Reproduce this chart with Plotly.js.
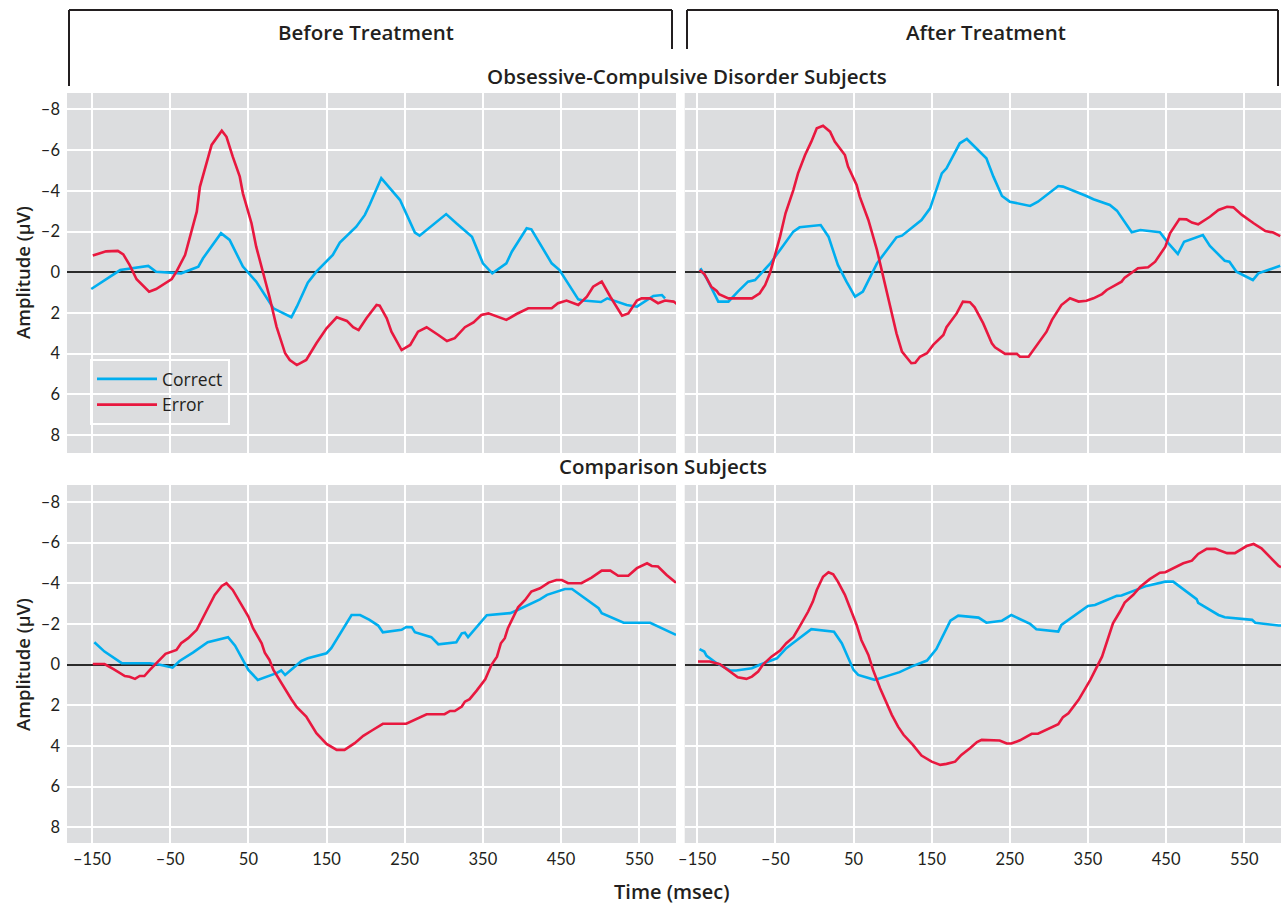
<!DOCTYPE html>
<html>
<head>
<meta charset="utf-8">
<script src="https://cdn.plot.ly/plotly-3.0.1.min.js"></script>
<style>html,body{margin:0;padding:0;background:#fff;}#chart{width:1281px;height:907px;}</style>
</head>
<body>
<div id="chart"></div>
<script>
// ---------- data (time in msec, amplitude in µV) ----------
const ocdBeforeCorrectT = [-151,-136,-114,-78,-68,-36,-14,-8,15,26,43,60,82,105,112,126,137,158,167,188,199,205,220,244,263,269,303,316,336,350,362,380,387,406,412,438,448,472,478,501,509,534,547,568,579,583];
const ocdBeforeCorrectV = [0.82,0.46,-0.11,-0.31,-0.03,0.05,-0.28,-0.69,-1.92,-1.59,-0.28,0.46,1.77,2.21,1.69,0.51,-0.03,-0.85,-1.46,-2.24,-2.82,-3.31,-4.62,-3.55,-1.95,-1.8,-2.86,-2.41,-1.75,-0.44,0.05,-0.44,-1.01,-2.16,-2.11,-0.44,-0.11,1.33,1.39,1.46,1.28,1.61,1.69,1.16,1.12,1.28];
const ocdBeforeErrorT = [-149,-136,-132,-117,-110,-102,-93,-77,-68,-48,-42,-31,-23,-16,-12,-2,3,16,22,30,39,43,54,60,69,77,86,97,103,112,124,137,150,163,176,184,191,201,214,218,227,233,246,257,267,278,293,304,314,327,338,348,357,368,380,393,408,438,446,457,464,472,483,491,502,513,528,536,547,553,564,574,583,594,598];
const ocdBeforeErrorV = [-0.82,-0.98,-1.03,-1.05,-0.88,-0.36,0.34,0.95,0.82,0.33,-0.03,-0.85,-1.92,-2.98,-4.2,-5.52,-6.26,-6.96,-6.66,-5.68,-4.7,-3.88,-2.41,-1.26,-0.03,1.2,2.67,3.98,4.31,4.56,4.31,3.49,2.75,2.21,2.39,2.7,2.84,2.26,1.61,1.64,2.26,2.92,3.82,3.57,2.92,2.7,3.08,3.38,3.24,2.7,2.46,2.1,2.02,2.18,2.34,2.05,1.77,1.77,1.52,1.39,1.49,1.61,1.2,0.71,0.46,1.2,2.13,2.02,1.39,1.28,1.28,1.52,1.39,1.44,1.56];

const ocdAfterCorrectT = [-146,-138,-123,-110,-98,-85,-76,-57,-44,-27,-19,8,18,30,41,52,62,80,105,112,137,148,163,169,186,195,220,229,240,250,276,286,312,318,348,357,378,387,406,417,442,453,465,473,497,506,525,531,540,561,568,596];
const ocdAfterCorrectV = [-0.2,0.29,1.44,1.44,0.95,0.46,0.38,-0.41,-1.1,-2.0,-2.21,-2.32,-1.75,-0.36,0.46,1.2,0.95,-0.44,-1.72,-1.8,-2.57,-3.14,-4.86,-5.11,-6.34,-6.55,-5.6,-4.7,-3.75,-3.47,-3.26,-3.47,-4.24,-4.21,-3.75,-3.59,-3.31,-3.03,-1.97,-2.08,-1.97,-1.42,-0.9,-1.5,-1.83,-1.29,-0.57,-0.52,-0.03,0.38,0.05,-0.32];
const ocdAfterErrorT = [-147,-141,-132,-125,-122,-110,-80,-70,-63,-57,-51,-44,-37,-27,-21,-12,-4,3,11,20,26,39,43,54,58,69,80,88,97,105,112,124,129,135,144,152,165,169,182,190,199,205,216,227,231,244,259,263,274,282,297,304,316,327,338,348,357,368,374,393,397,414,427,436,449,455,467,476,483,491,506,517,528,536,547,562,577,587,596];
const ocdAfterErrorV = [-0.11,0.08,0.71,0.92,1.08,1.28,1.28,1.03,0.62,0.05,-0.77,-1.75,-2.9,-4.04,-4.86,-5.76,-6.42,-7.08,-7.2,-6.91,-6.42,-5.76,-5.19,-4.29,-3.72,-2.57,-1.1,0.22,1.69,3.0,3.9,4.47,4.45,4.15,3.98,3.57,3.08,2.7,2.02,1.44,1.47,1.72,2.51,3.49,3.69,4.01,4.01,4.15,4.15,3.73,2.92,2.34,1.61,1.28,1.44,1.4,1.28,1.07,0.87,0.46,0.26,-0.2,-0.25,-0.52,-1.26,-1.92,-2.62,-2.6,-2.44,-2.36,-2.73,-3.06,-3.22,-3.19,-2.82,-2.41,-2.03,-1.95,-1.78];

const cmpBeforeCorrectT = [-147,-134,-112,-76,-63,-47,-38,-21,-2,24,33,50,62,86,92,97,107,118,126,150,156,182,193,205,216,222,246,252,259,263,284,293,316,323,327,331,355,385,393,423,432,455,464,498,502,530,564,589,597];
const cmpBeforeCorrectV = [-1.1,-0.64,-0.07,-0.07,0.01,0.15,-0.18,-0.59,-1.1,-1.35,-0.93,0.26,0.75,0.42,0.29,0.51,0.18,-0.18,-0.31,-0.56,-0.81,-2.44,-2.44,-2.2,-1.92,-1.59,-1.71,-1.85,-1.84,-1.59,-1.35,-1.0,-1.1,-1.54,-1.57,-1.35,-2.43,-2.53,-2.66,-3.21,-3.43,-3.72,-3.72,-2.77,-2.53,-2.06,-2.06,-1.59,-1.46];
const cmpBeforeErrorT = [-149,-134,-123,-108,-102,-95,-89,-83,-76,-70,-63,-56,-42,-36,-27,-16,-4,7,16,22,30,41,50,56,67,71,77,82,97,105,112,124,137,150,163,173,186,197,208,222,252,261,278,301,308,314,323,327,333,342,353,361,368,373,378,382,395,404,412,423,434,444,451,459,476,489,502,513,523,536,547,560,566,574,585,597];
const cmpBeforeErrorV = [-0.03,-0.03,0.21,0.56,0.6,0.7,0.56,0.56,0.26,0.01,-0.23,-0.53,-0.72,-1.05,-1.3,-1.71,-2.61,-3.43,-3.87,-4.0,-3.67,-2.93,-2.36,-1.79,-1.05,-0.59,-0.23,0.26,1.24,1.7,2.09,2.56,3.37,3.9,4.19,4.19,3.86,3.5,3.24,2.91,2.91,2.75,2.44,2.44,2.28,2.28,2.06,1.82,1.7,1.28,0.72,0.01,-0.39,-1.05,-1.3,-1.79,-2.82,-3.18,-3.59,-3.75,-4.03,-4.16,-4.16,-4.0,-4.0,-4.28,-4.62,-4.62,-4.37,-4.37,-4.74,-4.98,-4.85,-4.82,-4.41,-4.03];

const cmpAfterCorrectT = [-147,-141,-138,-125,-108,-100,-80,-70,-48,-36,-21,-4,25,35,50,56,77,86,109,124,144,156,174,184,210,220,240,252,276,284,312,316,350,359,387,393,417,425,449,459,489,491,517,525,560,564,594,597];
const cmpAfterCorrectV = [-0.76,-0.64,-0.43,-0.07,0.29,0.29,0.18,0.01,-0.31,-0.81,-1.25,-1.74,-1.62,-1.05,0.26,0.51,0.75,0.64,0.37,0.1,-0.2,-0.76,-2.16,-2.41,-2.31,-2.06,-2.16,-2.44,-2.0,-1.74,-1.62,-1.95,-2.88,-2.93,-3.38,-3.4,-3.75,-3.87,-4.08,-4.08,-3.22,-3.04,-2.44,-2.33,-2.2,-2.06,-1.92,-1.92];
const cmpAfterErrorT = [-149,-134,-121,-108,-98,-87,-80,-72,-66,-55,-44,-36,-27,-19,-8,-2,3,11,18,24,30,39,48,54,60,69,75,84,99,107,114,126,137,150,161,169,180,188,199,208,214,237,246,252,263,278,286,295,312,318,325,338,353,368,374,382,391,397,408,417,429,442,449,464,472,483,491,502,513,528,538,553,562,572,583,594,597];
const cmpAfterErrorV = [-0.15,-0.15,-0.02,0.34,0.62,0.7,0.59,0.34,0.01,-0.39,-0.69,-1.05,-1.35,-1.87,-2.61,-3.1,-3.67,-4.32,-4.54,-4.44,-4.08,-3.43,-2.53,-1.95,-1.21,-0.48,0.26,1.16,2.47,3.05,3.45,3.95,4.47,4.77,4.93,4.88,4.77,4.44,4.11,3.81,3.7,3.73,3.88,3.88,3.72,3.4,3.4,3.24,2.93,2.58,2.39,1.73,0.75,-0.39,-1.13,-2.03,-2.61,-3.05,-3.43,-3.83,-4.2,-4.52,-4.54,-4.85,-4.98,-5.11,-5.44,-5.69,-5.69,-5.48,-5.48,-5.83,-5.93,-5.72,-5.31,-4.85,-4.79];

const xTickVals = [-150,-50,50,150,250,350,450,550];
const xTickText = ['–150','–50','50','150','250','350','450','550'];
const yTickVals = [-8,-6,-4,-2,0,2,4,6,8];
const yTickText = ['–8','–6','–4','–2','0','2','4','6','8'];
const seriesNames = ['Correct','Error'];
const columnTitles = ['Before Treatment','After Treatment'];
const rowTitles = ['Obsessive-Compulsive Disorder Subjects','Comparison Subjects'];
const yTitle = 'Amplitude (μV)';
const xTitle = 'Time (msec)';

// ---------- styling ----------
const W = 1281, H = 907;
const BLUE = '#00AEEF', RED = '#E8183F', INK = '#231F20', BG = '#DCDDDF';
const TICKFONT = 'Lato, "Open Sans", "Noto Sans", sans-serif';
const TEXTFONT = '"Open Sans", Lato, "Noto Sans", sans-serif';
const px = x => x / W;
const py = y => 1 - y / H;

function tr(x, y, name, color, ax, show) {
  return {x: x, y: y, type: 'scatter', mode: 'lines', name: name,
    line: {color: color, width: 2.6}, xaxis: 'x' + ax, yaxis: 'y' + ax,
    showlegend: show, legendgroup: name, hoverinfo: 'x+y+name'};
}
const traces = [
  tr(ocdBeforeCorrectT, ocdBeforeCorrectV, seriesNames[0], BLUE, '', true),
  tr(ocdBeforeErrorT, ocdBeforeErrorV, seriesNames[1], RED, '', true),
  tr(ocdAfterCorrectT, ocdAfterCorrectV, seriesNames[0], BLUE, '2', false),
  tr(ocdAfterErrorT, ocdAfterErrorV, seriesNames[1], RED, '2', false),
  tr(cmpBeforeCorrectT, cmpBeforeCorrectV, seriesNames[0], BLUE, '3', false),
  tr(cmpBeforeErrorT, cmpBeforeErrorV, seriesNames[1], RED, '3', false),
  tr(cmpAfterCorrectT, cmpAfterCorrectV, seriesNames[0], BLUE, '4', false),
  tr(cmpAfterErrorT, cmpAfterErrorV, seriesNames[1], RED, '4', false)
];

function xa(domain, range, anchor, labels) {
  return {domain: domain, range: range, anchor: anchor, tickmode: 'array',
    tickvals: xTickVals, ticktext: xTickText, showticklabels: labels,
    ticks: '', ticklabelstandoff: 4, showgrid: true, gridcolor: '#ffffff', gridwidth: 2,
    zeroline: false, showline: false, fixedrange: true,
    tickfont: {family: TICKFONT, size: 16.5, color: INK}};
}
function ya(domain, range, anchor, labels) {
  return {domain: domain, range: range, anchor: anchor, tickmode: 'array',
    tickvals: yTickVals, ticktext: yTickText, showticklabels: labels,
    ticks: '', ticklabelstandoff: 6, showgrid: true, gridcolor: '#ffffff', gridwidth: 2,
    zeroline: true, zerolinecolor: '#2b2b2b', zerolinewidth: 1.5, showline: false, fixedrange: true,
    tickfont: {family: TICKFONT, size: 16.5, color: INK}};
}
const leftX = [px(67), px(676)], rightX = [px(684.7), 1];
const topY = [py(453), py(93)], botY = [py(843), py(485)];

const lineStyle = {color: INK, width: 2};
function seg(x0, y0, x1, y1) {
  return {type: 'line', xref: 'paper', yref: 'paper', x0: px(x0), y0: py(y0), x1: px(x1), y1: py(y1), line: lineStyle};
}
function ann(text, x, y, size, angle) {
  return {text: text, xref: 'paper', yref: 'paper', x: px(x), y: py(y),
    xanchor: 'center', yanchor: 'middle', showarrow: false, textangle: angle || 0,
    font: {family: TEXTFONT, size: size, color: INK, weight: 600}};
}

const layout = {
  width: W, height: H, margin: {l: 0, r: 0, t: 0, b: 0},
  paper_bgcolor: '#ffffff', plot_bgcolor: BG,
  font: {family: TEXTFONT, color: INK},
  xaxis: xa(leftX, [-182, 597], 'y', false),
  yaxis: ya(topY, [8.88, -8.81], 'x', true),
  xaxis2: xa(rightX, [-166, 597], 'y2', false),
  yaxis2: ya(topY, [8.88, -8.81], 'x2', false),
  xaxis3: xa(leftX, [-182, 597], 'y3', true),
  yaxis3: ya(botY, [8.77, -8.83], 'x3', true),
  xaxis4: xa(rightX, [-166, 597], 'y4', true),
  yaxis4: ya(botY, [8.77, -8.83], 'x4', false),
  showlegend: true,
  legend: {x: px(90), y: py(359), xanchor: 'left', yanchor: 'top',
    bgcolor: 'rgba(0,0,0,0)', bordercolor: '#ffffff', borderwidth: 2,
    font: {family: TEXTFONT, size: 17.5, color: INK}, itemwidth: 60, tracegroupgap: 0},
  shapes: [
    seg(69, 86, 69, 10), seg(69, 10, 672, 10), seg(672, 10, 672, 49),
    seg(687, 49, 687, 10), seg(687, 10, 1278, 10), seg(1278, 10, 1278, 86)
  ],
  annotations: [
    ann(columnTitles[0], 366, 32, 20.5),
    ann(columnTitles[1], 986, 32, 20.5),
    ann(rowTitles[0], 687, 76, 20.5),
    ann(rowTitles[1], 663, 466, 20.5),
    ann(yTitle, 22, 273, 18.5, -90),
    ann(yTitle, 22, 665, 18.5, -90),
    ann(xTitle, 672, 891, 20)
  ]
};

Plotly.newPlot('chart', traces, layout, {displayModeBar: false, responsive: false});
</script>
</body>
</html>
